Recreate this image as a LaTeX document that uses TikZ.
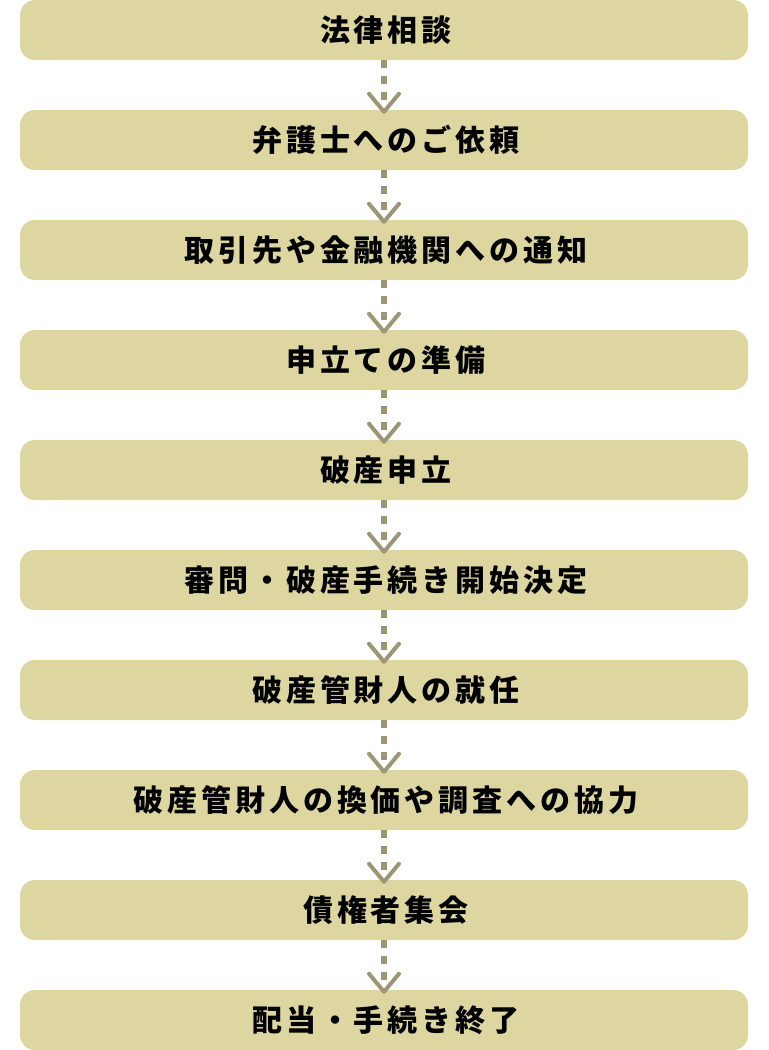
\documentclass[tikz,border=0pt]{standalone}
\usepackage{fontspec}
\newfontfamily\jp{Noto Sans CJK JP}[LetterSpace=13]
\definecolor{boxfill}{HTML}{DED6A0}
\definecolor{arrowcol}{HTML}{9C9677}
\tikzset{
  stepbox/.style={fill=boxfill, draw=none, rounded corners=11.25pt,
    minimum width=546pt, minimum height=45pt, inner sep=0pt,
    font=\jp\bfseries\fontsize{22.5pt}{26pt}\selectfont, text=black},
  dashline/.style={draw=arrowcol, line width=4.5pt, dash pattern=on 6pt off 6pt},
  chevron/.style={draw=arrowcol, line width=3pt, line cap=round, line join=round}
}
\newcommand\lbl[1]{#1\kern-0.13em}
\begin{document}
\begin{tikzpicture}[x=0.75pt,y=-0.75pt]
\useasboundingbox (0,0) rectangle (768,1050);
\foreach \t [count=\i from 0] in {法律相談,弁護士へのご依頼,取引先や金融機関への通知,申立ての準備,破産申立,審問・破産手続き開始決定,破産管財人の就任,破産管財人の換価や調査への協力,債権者集会,配当・手続き終了}{
  \node[stepbox] (b\i) at (384,{30+110*\i}) {\lbl{\t}};
}
\foreach \i [evaluate=\i as \j using int(\i+1)] in {0,...,8}{
  \coordinate (e\i) at ([yshift=-1.5pt]b\j.north);
  \draw[dashline] (b\i.south) -- ([yshift=7.5pt]b\j.north);
  \draw[chevron] ([xshift=-11.25pt,yshift=13.5pt]e\i) -- (e\i) -- ([xshift=11.25pt,yshift=13.5pt]e\i);
}
\end{tikzpicture}
\end{document}
